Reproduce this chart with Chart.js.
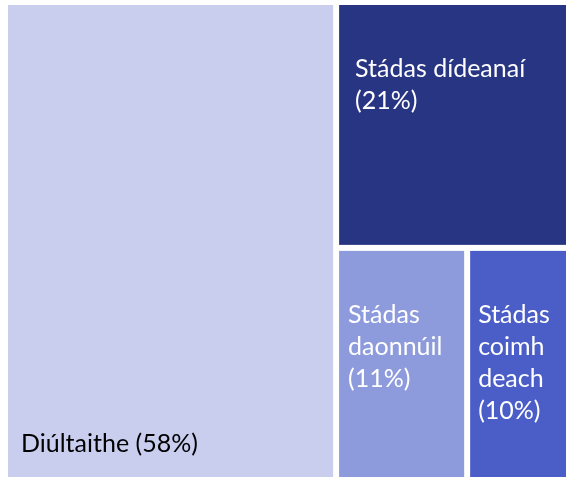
<!DOCTYPE html>
<html>
<head>
<meta charset="utf-8">
<script src="https://cdn.jsdelivr.net/npm/chart.js@4.4.1/dist/chart.umd.min.js"></script>
<style>
  html, body { margin: 0; padding: 0; background: #ffffff; }
  #wrap { width: 566px; height: 477px; position: relative; }
</style>
</head>
<body>
<div id="wrap"><canvas id="treemap_chart"></canvas></div>
<script>
// categories and their printed shares; \u200B marks where the long word was split
var categories = ['Diúltaithe', 'Stádas dídeanaí', 'Stádas daonnúil', 'Stádas coimh\u200Bdeach'];
var shareLabels = ['(58%)', '(21%)', '(11%)', '(10%)'];
// box sizes as read from the tile areas
var values = [58.8, 21.2, 11.4, 8.6];

var colors = ['#C9CDEE', '#283583', '#8D9ADB', '#4B5EC8'];
var textColors = ['#000000', '#FFFFFF', '#FFFFFF', '#FFFFFF'];

// squarified layout in a w x h box, returns [x0, y0, x1, y1] per value
function squarify(vals, x, y, w, h) {
  var total = vals.reduce(function (a, b) { return a + b; }, 0);
  var scale = (w * h) / total;
  var areas = vals.map(function (v) { return v * scale; });
  var out = [];
  var i = 0;
  function worst(row, side) {
    var s = row.reduce(function (a, b) { return a + b; }, 0);
    var mx = Math.max.apply(null, row), mn = Math.min.apply(null, row);
    return Math.max(side * side * mx / (s * s), (s * s) / (side * side * mn));
  }
  while (i < areas.length) {
    var side = Math.min(w, h);
    var row = [areas[i]];
    var j = i + 1;
    while (j < areas.length && worst(row.concat(areas[j]), side) <= worst(row, side)) {
      row.push(areas[j]);
      j++;
    }
    var sum = row.reduce(function (a, b) { return a + b; }, 0);
    var thick = sum / side;
    var pos = 0;
    row.forEach(function (a) {
      var len = a / thick;
      if (w >= h) out.push([x, y + pos, x + thick, y + pos + len]);
      else out.push([x + pos, y, x + pos + len, y + thick]);
      pos += len;
    });
    if (w >= h) { x += thick; w -= thick; } else { y += thick; h -= thick; }
    i = j;
  }
  return out;
}

function wrapLines(ctx, text, maxW) {
  var tokens = [];
  text.split(' ').forEach(function (word) {
    word.split('\u200B').forEach(function (part, k) {
      tokens.push({ t: part, sep: k === 0 ? ' ' : '' });
    });
  });
  var lines = [];
  var cur = '';
  tokens.forEach(function (tk) {
    var trial = cur === '' ? tk.t : cur + tk.sep + tk.t;
    if (cur !== '' && ctx.measureText(trial).width > maxW) {
      lines.push(cur);
      cur = tk.t;
    } else {
      cur = trial;
    }
  });
  if (cur !== '') lines.push(cur);
  return lines;
}

var treemapPlugin = {
  id: 'treemapBoxes',
  afterDatasetsDraw: function (chart, args, opts) {
    var ctx = chart.ctx;
    var xs = chart.scales.x, ys = chart.scales.y;
    var area = chart.chartArea;
    var aw = area.right - area.left, ah = area.bottom - area.top;
    // layout in pixel proportions, then back to scale units (0..100)
    var boxes = squarify(values, 0, 0, aw, ah);
    var half = opts.gap / 2;
    ctx.save();
    boxes.forEach(function (b, i) {
      var l = xs.getPixelForValue(b[0] / aw * 100);
      var r = xs.getPixelForValue(b[2] / aw * 100);
      var t = ys.getPixelForValue(b[1] / ah * 100);
      var bt = ys.getPixelForValue(b[3] / ah * 100);
      if (l > area.left + 0.5) l += half;
      if (r < area.right - 0.5) r -= half;
      if (t > area.top + 0.5) t += half;
      if (bt < area.bottom - 0.5) bt -= half;
      ctx.fillStyle = colors[i];
      ctx.fillRect(l, t, r - l, bt - t);

      ctx.font = opts.fontSize + 'px ' + opts.fontFamily;
      ctx.fillStyle = textColors[i];
      ctx.textAlign = 'left';
      ctx.textBaseline = 'alphabetic';
      var padX = opts.padX[i];
      var lines = wrapLines(ctx, categories[i] + ' ' + shareLabels[i], r - l - 2 * padX);
      var y0;
      if (opts.valign[i] === 'bottom') {
        y0 = bt - opts.bottomOffset - (lines.length - 1) * opts.lineHeight;
      } else {
        y0 = t + opts.topOffset;
      }
      lines.forEach(function (ln, k) {
        ctx.fillText(ln, l + padX, y0 + k * opts.lineHeight);
      });
    });
    ctx.restore();
  }
};

var treemapChart = new Chart(document.getElementById('treemap_chart'), {
  type: 'scatter',
  data: {
    datasets: [{ data: [], pointRadius: 0 }]
  },
  options: {
    responsive: true,
    maintainAspectRatio: false,
    animation: false,
    layout: { padding: { left: 8, top: 5, right: 0, bottom: 0 } },
    scales: {
      x: { type: 'linear', min: 0, max: 100, display: false },
      y: { type: 'linear', min: 0, max: 100, reverse: true, display: false }
    },
    plugins: {
      legend: { display: false },
      tooltip: { enabled: false },
      treemapBoxes: {
        gap: 6,
        fontSize: 25,
        fontFamily: 'Lato, "Open Sans", sans-serif',
        lineHeight: 32,
        padX: [13, 16, 9, 8],
        valign: ['bottom', 'top', 'top', 'top'],
        topOffset: 72,
        bottomOffset: 25
      }
    }
  },
  plugins: [treemapPlugin]
});
</script>
</body>
</html>
